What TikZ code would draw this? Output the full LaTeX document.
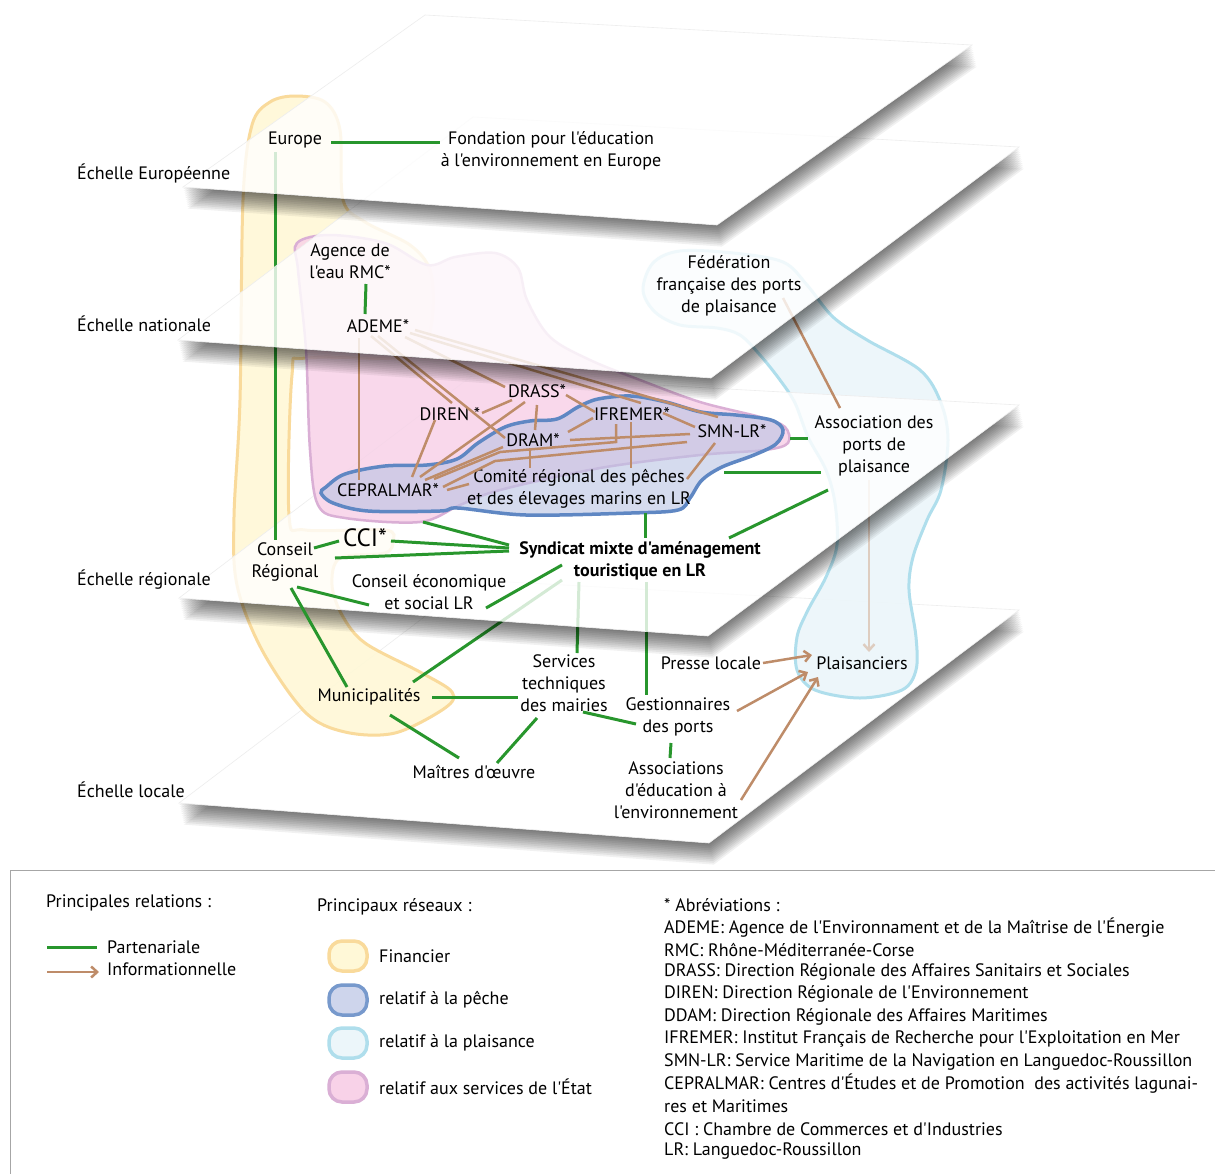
\documentclass[tikz,border=0pt]{standalone}
\usepackage{fontspec}
\setmainfont{PT Sans}[Ligatures=TeXOff]
\usetikzlibrary{arrows.meta,calc}
\pgfdeclarelayer{pfour}
\pgfdeclarelayer{lfour}
\pgfdeclarelayer{pthree}
\pgfdeclarelayer{lthree}
\pgfdeclarelayer{ptwo}
\pgfdeclarelayer{ltwo}
\pgfdeclarelayer{pone}
\pgfsetlayers{pfour,lfour,pthree,lthree,ptwo,ltwo,pone,main}
\definecolor{lgreen}{RGB}{40,150,45}
\definecolor{lbrown}{RGB}{190,140,105}
\definecolor{lbrownlight}{RGB}{222,205,192}
\definecolor{yfill}{RGB}{255,248,215}
\definecolor{yline}{RGB}{249,218,155}
\definecolor{pfill}{RGB}{248,210,232}
\definecolor{pline}{RGB}{218,175,213}
\definecolor{bfill}{RGB}{185,195,228}
\definecolor{bline}{RGB}{95,135,195}
\definecolor{cfill}{RGB}{236,246,250}
\definecolor{cline}{RGB}{175,222,236}
\newcommand\myplane[1]{%
  \begin{scope}[even odd rule]
    \clip (-20,-20) rectangle (1240,1200) #1;
    \foreach \k in {1,...,12}{\fill[black,opacity=0.055,shift={(0.4*\k,1.8*\k)}] #1;}
  \end{scope}
  \fill[white,opacity=0.8] #1;
  \draw[black!7,line width=0.6pt] #1;
}
\tikzset{
  txt/.style={align=center,inner sep=1pt,font=\fontsize{18}{22}\selectfont},
  gr/.style={draw=lgreen,line width=3pt},
  br/.style={draw=lbrown,line width=2.5pt},
  arr/.style={br,-{Straight Barb[length=6pt,width=11pt]}},
}
\begin{document}
\begin{tikzpicture}[x=1pt,y=-1pt]
\useasboundingbox (0,0) rectangle (1215,1173);
% ---------- planes ----------
\begin{pgfonlayer}{pfour}
  \fill[white] (0,0) rectangle (1215,1173);
  \myplane{(473,580) -- (1019,610) -- (709,843) -- (179,803) -- cycle}
\end{pgfonlayer}
\begin{pgfonlayer}{pthree}
  \myplane{(473,375) -- (1019,405) -- (708,636) -- (179,598) -- cycle}
\end{pgfonlayer}
\begin{pgfonlayer}{ptwo}
  \myplane{(473,117) -- (1019,147) -- (711,378) -- (178,340) -- cycle}
\end{pgfonlayer}
\begin{pgfonlayer}{pone}
  \myplane{(425,15) -- (972,45) -- (717,225) -- (183,187) -- cycle}
\end{pgfonlayer}
% ---------- level 4 ----------
\begin{pgfonlayer}{lfour}
  \draw[draw=yline,line width=3pt,fill=yfill,fill opacity=0.9] plot[smooth cycle,tension=0.55] coordinates {
    (295,96) (325,102) (340,130) (343,200) (365,222) (410,245) (430,270) (433,310) (425,345) (400,358)
    (305,358) (292,375) (289,515) (305,530) (385,530) (393,541) (385,553) (340,558) (332,585) (342,615)
    (365,643) (420,672) (452,692) (445,708) (395,733) (345,732) (305,712) (262,650) (237,585) (234,517)
    (240,400) (243,200) (252,125) (270,102)};
  \draw[draw=cline,line width=3pt,fill=cfill,fill opacity=0.9] plot[smooth cycle,tension=0.55] coordinates {
    (653,263) (680,251) (733,253) (783,262) (807,285) (833,317) (867,340) (920,370) (941,403) (948,440)
    (941,490) (927,520) (913,557) (909,590) (916,637) (916,670) (902,690) (860,698) (815,690) (797,670)
    (797,637) (808,610) (826,577) (837,545) (835,503) (826,470) (808,437) (795,403) (780,380) (760,355)
    (740,335) (717,328) (680,325) (655,312) (643,290)};
  \node[txt] (Mun) at (369,697) {Municipalités};
  \node[txt] (Serv) at (564,683) {Services\\techniques\\des mairies};
  \node[txt] (Presse) at (711,663) {Presse locale};
  \node[txt] (Plai) at (862,663) {Plaisanciers};
  \node[txt] (Gest) at (678,717) {Gestionnaires\\des ports};
  \node[txt] (Mait) at (474,772) {Maîtres d'œuvre};
  \node[txt] (AssEd) at (676,790) {Associations\\d'éducation à\\l'environnement};
\end{pgfonlayer}
% ---------- level 3 ----------
\begin{pgfonlayer}{lthree}
  \draw[draw=pline,line width=2.5pt,fill=pfill,fill opacity=0.85] plot[smooth cycle,tension=0.55] coordinates {
    (297,243) (330,235) (385,243) (427,265) (455,257) (495,253) (518,268) (527,300) (550,337) (590,360)
    (640,380) (700,402) (760,417) (785,427) (788,443) (765,450) (700,455) (600,468) (500,490) (460,505)
    (420,522) (345,518) (318,505) (310,450) (306,350) (298,270)};
  \draw[draw=bline,line width=3.5pt,fill=bfill,fill opacity=0.6] plot[smooth cycle,tension=0.55] coordinates {
    (326,487) (345,474) (385,466) (427,465) (457,459) (478,443) (505,427) (530,421) (557,419) (578,407)
    (598,399) (631,396) (666,402) (701,412) (736,415) (771,420) (783,430) (776,444) (754,455) (722,467)
    (702,480) (690,498) (678,510) (631,513) (526,515) (458,508) (440,511) (368,511) (333,503) (321,493)};
  \node[txt] (DRASS) at (537,391) {DRASS*};
  \node[txt] (DIREN) at (450,414) {DIREN *};
  \node[txt] (IFR) at (632,414) {IFREMER*};
  \node[txt] (DRAM) at (533,440) {DRAM*};
  \node[txt] (SMN) at (732,431) {SMN-LR*};
  \node[txt] (CEP) at (388,490) {CEPRALMAR*};
  \node[txt] (Com) at (579,489) {Comité régional des pêches\\et des élevages marins en LR};
  \node[txt] (Asso) at (874,446) {Association des\\ports de\\plaisance};
  \node[txt,font=\fontsize{25}{28}\selectfont] (CCI) at (365,538) {CCI*};
  \node[txt] (CR) at (285,562) {Conseil\\Régional};
  \node[txt,font=\fontsize{18}{22}\selectfont\bfseries] (Syn) at (640,561) {Syndicat mixte d'aménagement\\touristique en LR};
  \node[txt] (CES) at (429,592) {Conseil économique\\et social LR};
\end{pgfonlayer}
% ---------- level 2 ----------
\begin{pgfonlayer}{ltwo}
  \node[txt] (Age) at (350,261) {Agence de\\l'eau RMC*};
  \node[txt] (ADE) at (378,326) {ADEME*};
  \node[txt] (Fed) at (729,286) {Fédération\\française des ports\\de plaisance};
\end{pgfonlayer}
% ---------- level 1 ----------
\node[txt] (Eur) at (295,140) {Europe};
\node[txt] (Fond) at (551,151) {Fondation pour l'éducation\\à l'environnement en Europe};
\node[txt,anchor=west] (E1) at (76,173) {Échelle Européenne};
\node[txt,anchor=west] (E2) at (76,324) {Échelle nationale};
\node[txt,anchor=west] (E3) at (76,580) {Échelle régionale};
\node[txt,anchor=west] (E4) at (76,790) {Échelle locale};
% ---------- connectors ----------
\draw[gr] ($(Eur)+(36,2)$) -- ($(Fond)+(-111,-9)$);
\begin{pgfonlayer}{ltwo}
  \draw[gr] ($(Age)+(16,23)$) -- ($(ADE)+(-13,-12)$);
\end{pgfonlayer}
\begin{pgfonlayer}{lthree}
  \draw[gr] ($(Eur)+(-20,12)$) -- ($(CR)+(-10,-22)$);
  \draw[br] ($(Fed)+(54,12)$) -- ($(Asso)+(-34,-38)$);
  \draw[br] ($(ADE)+(-19,12)$) -- ($(CEP)+(-29,-10)$);
  \draw[br] ($(ADE)+(-7,10)$) -- ($(DIREN)+(2,-11)$);
  \draw[br] ($(ADE)+(0,10)$) -- ($(DRAM)+(-28,-2)$);
  \draw[br] ($(ADE)+(27,11)$) -- ($(DRASS)+(-32,-4)$);
  \draw[br] ($(ADE)+(32,7)$) -- ($(IFR)+(9,-11)$);
  \draw[br] ($(ADE)+(37,4)$) -- ($(SMN)+(-14,-14)$);
  \draw[br] ($(DRASS)+(29,4)$) -- ($(IFR)+(-37,-2)$);
  \draw[br] ($(DIREN)+(32,-1)$) -- ($(DRASS)+(-25,9)$);
  \draw[br] ($(DRASS)+(-12,11)$) -- ($(CEP)+(32,-13)$);
  \draw[br] ($(DRASS)+(0,14)$) -- ($(DRAM)+(2,-10)$);
  \draw[br] ($(DIREN)+(-15,6)$) -- ($(CEP)+(24,-13)$);
  \draw[br] ($(DRAM)+(-30,7)$) -- ($(CEP)+(37,-10)$);
  \draw[br] ($(IFR)+(-39,4)$) -- ($(DRAM)+(35,-8)$);
  \draw[br] ($(IFR)+(31,-1)$) -- ($(SMN)+(-37,-4)$);
  \draw[br] ($(DRAM)+(37,0)$) -- ($(SMN)+(-42,3)$);
  \draw[br] ($(IFR)+(-16,10)$) -- ($(IFR)+(-16,28)$) -- ($(DRAM)+(-33,12)$) -- ($(CEP)+(46,-11)$);
  \draw[br] ($(SMN)+(-45,11)$) -- ($(DRAM)+(-38,21)$) -- ($(CEP)+(55,-3)$);
  \draw[br] ($(DRAM)+(-3,9)$) -- ($(Com)+(-49,-21)$);
  \draw[br] ($(IFR)+(-1,8)$) -- ($(Com)+(52,-21)$);
  \draw[br] ($(SMN)+(-17,12)$) -- ($(Com)+(108,-10)$);
  \draw[br] ($(Com)+(-110,-5)$) -- ($(CEP)+(59,0)$);
  \draw[gr] ($(CEP)+(35,32)$) -- ($(Syn)+(-131,-16)$);
  \draw[gr] ($(CCI)+(26,3)$) -- ($(Syn)+(-131,-13)$);
  \draw[gr] ($(CR)+(50,-4)$) -- ($(Syn)+(-131,-10)$);
  \draw[gr] ($(CR)+(29,-14)$) -- ($(CCI)+(-26,3)$);
  \draw[gr] ($(CR)+(12,25)$) -- ($(CES)+(-60,13)$);
  \draw[gr] ($(CES)+(57,16)$) -- ($(Syn)+(-78,4)$);
  \draw[gr] ($(Com)+(66,24)$) -- ($(Syn)+(5,-23)$);
  \draw[gr] ($(Asso)+(-46,44)$) -- ($(Syn)+(89,-23)$);
  \draw[gr] ($(SMN)+(58,7)$) -- ($(Asso)+(-66,-8)$);
  \draw[gr] ($(Com)+(145,-17)$) -- ($(Asso)+(-53,26)$);
  \draw[gr] ($(CR)+(6,26)$) -- ($(Mun)+(-22,-10)$);
\end{pgfonlayer}
\begin{pgfonlayer}{lfour}
  \draw[gr] ($(Syn)+(-78,19)$) -- ($(Mun)+(44,-15)$);
  \draw[gr] ($(Syn)+(-61,21)$) -- ($(Serv)+(13,-30)$);
  \draw[gr] ($(Syn)+(6,21)$) -- ($(Gest)+(-32,-22)$);
  \draw[gr] ($(Mun)+(63,0)$) -- ($(Serv)+(-46,14)$);
  \draw[gr] ($(Mun)+(21,18)$) -- ($(Mait)+(-15,-14)$);
  \draw[gr] ($(Serv)+(-27,35)$) -- ($(Mait)+(23,-9)$);
  \draw[gr] ($(Serv)+(19,29)$) -- ($(Gest)+(-42,7)$);
  \draw[gr] ($(Gest)+(-7,26)$) -- ($(AssEd)+(-6,-32)$);
  \draw[arr,draw=lbrownlight] ($(Asso)+(-5,34)$) -- ($(Plai)+(7,-11)$);
  \draw[arr] ($(Presse)+(52,0)$) -- ($(Plai)+(-50,-8)$);
  \draw[arr] ($(Gest)+(59,-6)$) -- ($(Plai)+(-54,9)$);
  \draw[arr] ($(AssEd)+(65,10)$) -- ($(Plai)+(-44,14)$);
\end{pgfonlayer}
% ---------- legend ----------
\draw[black!35,line width=1pt] (10,1180) -- (10,870) -- (1225,870);
\node[txt,anchor=west] (L1) at (45,903) {Principales relations :};
\coordinate (g1) at (47,947);
\coordinate (g2) at (97,947);
\draw[gr] (g1) -- (g2);
\coordinate (b1) at (47,972);
\coordinate (b2) at (99,972);
\draw[arr] (b1) -- (b2);
\node[txt,anchor=west] (L2) at (106,947) {Partenariale};
\node[txt,anchor=west] (L3) at (106,969) {Informationnelle};
\node[txt,anchor=west] (L4) at (316,907) {Principaux réseaux :};
\node[draw=yline,fill=yfill,line width=3.5pt,rounded corners=13pt,minimum width=38pt,minimum height=30pt] (S1) at (348,956) {};
\node[draw=bline!85,fill=bfill!70,line width=3.5pt,rounded corners=13pt,minimum width=38pt,minimum height=30pt] (S2) at (348,1000) {};
\node[draw=cline,fill=cfill,line width=3.5pt,rounded corners=13pt,minimum width=38pt,minimum height=30pt] (S3) at (348,1043) {};
\node[draw=pline,fill=pfill,line width=3.5pt,rounded corners=13pt,minimum width=38pt,minimum height=30pt] (S4) at (348,1087) {};
\node[txt,anchor=west] (L5) at (378,956) {Financier};
\node[txt,anchor=west] (L6) at (378,1000) {relatif à la pêche};
\node[txt,anchor=west] (L7) at (378,1043) {relatif à la plaisance};
\node[txt,anchor=west] (L8) at (378,1087) {relatif aux services de l'État};
\node[txt,anchor=west] (A0) at (663,905) {* Abréviations :};
\node[txt,anchor=west] (A1) at (663,928) {ADEME: Agence de l'Environnament et de la Maîtrise de l'Énergie};
\node[txt,anchor=west] (A2) at (663,950) {RMC: Rhône-Méditerranée-Corse};
\node[txt,anchor=west] (A3) at (663,972) {DRASS: Direction Régionale des Affaires Sanitairs et Sociales};
\node[txt,anchor=west] (A4) at (663,994) {DIREN: Direction Régionale de l'Environnement};
\node[txt,anchor=west] (A5) at (663,1017) {DDAM: Direction Régionale des Affaires Maritimes};
\node[txt,anchor=west] (A6) at (663,1039) {IFREMER: Institut Français de Recherche pour l'Exploitation en Mer};
\node[txt,anchor=west] (A7) at (663,1062) {SMN-LR: Service Maritime de la Navigation en Languedoc-Roussillon};
\node[txt,anchor=west] (A8) at (663,1084) {CEPRALMAR: Centres d'Études et de Promotion\ \ des activités lagunai-};
\node[txt,anchor=west] (A9) at (663,1106) {res et Maritimes};
\node[txt,anchor=west] (A10) at (663,1129) {CCI : Chambre de Commerces et d'Industries};
\node[txt,anchor=west] (A11) at (663,1151) {LR: Languedoc-Roussillon};
\end{tikzpicture}
\end{document}
